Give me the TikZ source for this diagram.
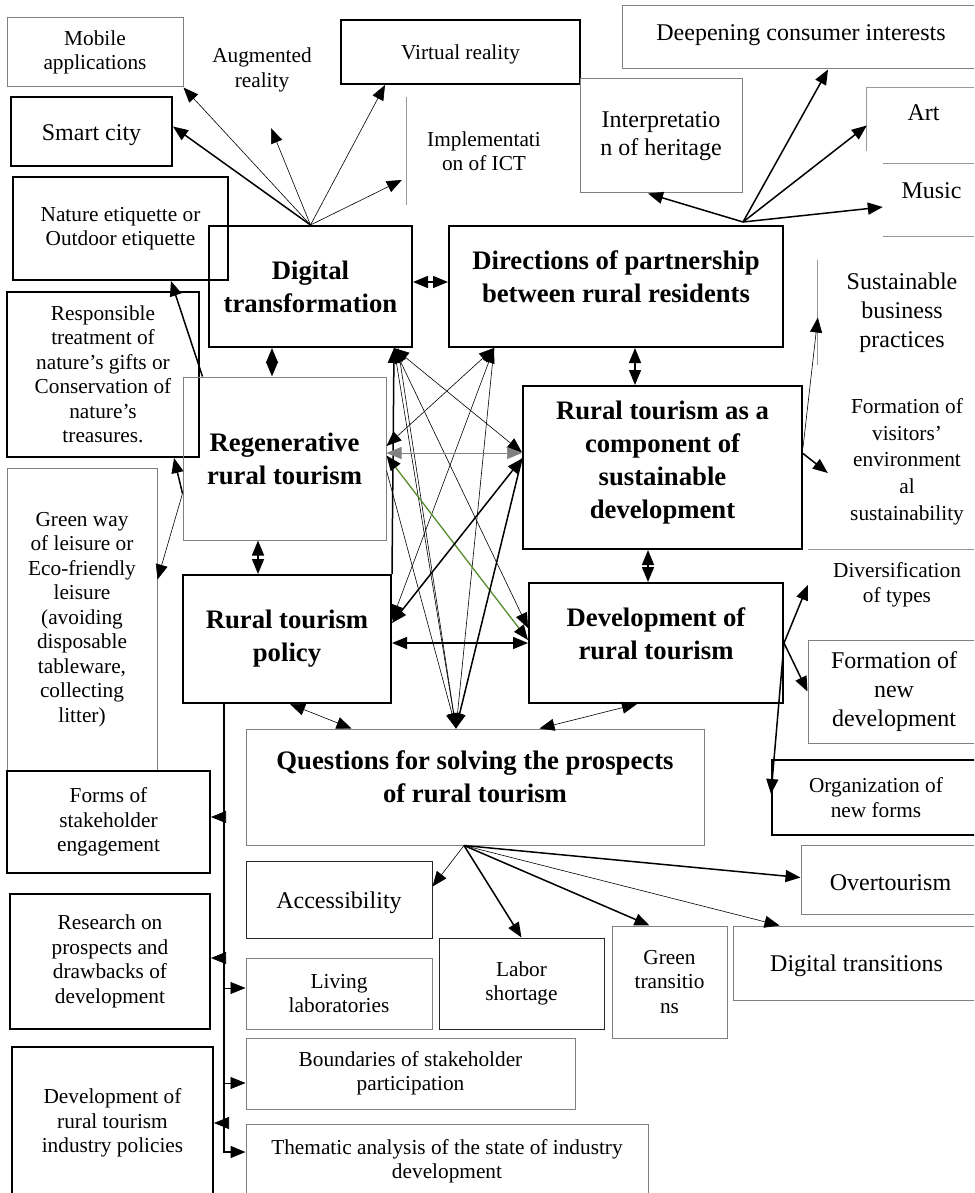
\documentclass[tikz,border=0pt]{standalone}
\usepackage{fontspec}
\setmainfont{Liberation Serif}
\usepackage{tikz}
\usetikzlibrary{arrows.meta}
\definecolor{leafgreen}{RGB}{84,140,44}
\newcommand{\fsm}{\fontsize{21.3}{24.5}\selectfont}
\newcommand{\fmd}{\fontsize{24}{27.6}\selectfont}
\newcommand{\fhd}{\fontsize{26.7}{33}\selectfont\bfseries}

\begin{document}
\begin{tikzpicture}[x=1pt,y=-1pt,
  every node/.style={inner sep=0pt,align=center},
  sm/.style={font=\fsm,execute at begin node={\rule{0pt}{20pt}}},
  md/.style={font=\fmd,execute at begin node={\rule{0pt}{23pt}}},
  hd/.style={font=\fhd},
  sml/.style={font=\fontsize{21.3}{26.7}\selectfont,execute at begin node={\rule{0pt}{20pt}}},
  mdl/.style={font=\fontsize{24}{29}\selectfont,execute at begin node={\rule{0pt}{23pt}}},
  thinbox/.style={draw=black!50,line width=1pt},
  darkbox/.style={draw=black!85,line width=1pt},
  thickbox/.style={draw=black,line width=2pt},
  sz/.style 2 args={minimum width=#1,minimum height=#2},
  rim/.style={draw=black!40,line width=1pt},
  headed/.style={-{Triangle[length=15pt,width=12pt]}},
  arr/.style={headed,line width=0.6pt},
  arrt/.style={headed,line width=1.5pt},
  dbl/.style={{Triangle[length=15pt,width=12pt]}-{Triangle[length=15pt,width=12pt]},line width=0.6pt},
  dblt/.style={dbl,line width=1.5pt}]
\useasboundingbox (0,0) rectangle (974,1193);
\clip (0,0) rectangle (974,1193);

% top row
\node[thinbox,sm,sz={176}{69}] (mob) at (95,52.5) {Mobile\\applications};
\node[thickbox,md,sz={161}{69}] (smart) at (91.5,131.5) {Smart city};
\node[sm] (aug) at (262,70) {Augmented\\reality};
\node[thickbox,sm,sz={239}{64}] (virt) at (460.5,52) {Virtual reality};
\node[sm,sz={154}{108}] (impl) at (484,151) {Implementati\\on of ICT};
\node[thinbox,md,sz={358}{63},text depth=17pt] (deep) at (801,37.5) {Deepening consumer interests};
\node[thinbox,md,sz={162}{114}] (interp) at (661,136) {Interpretatio\\n of heritage};
\node[md,sz={113}{63},text depth=20pt] (art) at (923.5,119.5) {Art};
\node[md,sz={97}{72},text depth=26pt] (music) at (931.5,200) {Music};
\draw[rim] (impl.north west) -- (impl.south west);
\draw[rim] (art.south west) -- (art.north west) -- (art.north east);
\draw[rim] (music.north west) -- (music.north east) (music.south west) -- (music.south east);

% main boxes
\node[thickbox,sm,sz={215}{103}] (nat) at (120.5,228.5) {Nature etiquette or\\Outdoor etiquette};
\node[thickbox,hd,sz={203}{121}] (dig) at (310.5,286.5) {Digital\\transformation};
\node[thickbox,hd,sz={334}{121},text depth=20pt] (dir) at (616,286.5) {Directions of partnership\\between rural residents};
\node[thickbox,sm,sz={192}{165}] (resp) at (103,374.5) {Responsible\\treatment of\\nature's gifts or\\Conservation of\\nature's\\treasures.};
\node[mdl,sz={168}{105}] (sbp) at (902,312.5) {Sustainable\\business\\practices};
\node[thinbox,hd,sz={203}{163}] (regen) at (284.5,458.5) {Regenerative\\rural tourism};
\node[thickbox,hd,sz={279}{163},text depth=16pt] (rsus) at (662.5,467.5) {Rural tourism as a\\component of\\sustainable\\development};
\node[sml,sz={198}{175}] (fvis) at (907,461.5) {Formation of\\visitors'\\environment\\al\\sustainability};
\node[thinbox,sm,sz={150}{303}] (green) at (82,619.5) {Green way\\of leisure or\\Eco-friendly\\leisure\\(avoiding\\disposable\\tableware,\\collecting\\litter)};
\node[thickbox,hd,sz={208}{128}] (pol) at (287,639) {Rural tourism\\policy};
\node[thickbox,hd,sz={254}{120},text depth=19pt] (devr) at (656,643) {Development of\\rural tourism};
\node[sm,sz={178}{56}] (div) at (897,585) {Diversification\\of types};
\node[thinbox,mdl,sz={172}{103}] (fnew) at (894,691.5) {Formation of\\new\\development};
\draw[rim] (sbp.north west) -- (sbp.south west);
\draw[rim] (fvis.south west) -- (fvis.south east);

% bottom part
\node[thinbox,hd,sz={458}{116},text depth=21pt] (quest) at (475,787) {Questions for solving the prospects\\of rural tourism};
\node[thickbox,sm,sz={208}{75}] (org) at (876,797.5) {Organization of\\new forms};
\node[thickbox,sm,sz={203}{102}] (forms) at (108.5,822) {Forms of\\stakeholder\\engagement};
\node[darkbox,md,sz={186}{77}] (acc) at (339,899.5) {Accessibility};
\node[thinbox,md,sz={179}{69}] (over) at (890.5,879.5) {Overtourism};
\node[thickbox,sm,sz={200}{135}] (res) at (110,961.5) {Research on\\prospects and\\drawbacks of\\development};
\node[thinbox,sm,sz={186}{71}] (liv) at (339,993.5) {Living\\laboratories};
\node[darkbox,sm,sz={165}{91}] (lab) at (521.5,983.5) {Labor\\shortage};
\node[thinbox,sm,sz={115}{112}] (gtr) at (669.5,982) {Green\\transitio\\ns};
\node[thinbox,md,sz={247}{74}] (dtr) at (856.5,963) {Digital transitions};
\node[thinbox,sm,sz={329}{71}] (bound) at (410.5,1073.5) {Boundaries of stakeholder\\participation};
\node[thickbox,sm,sz={201}{152}] (dpol) at (112.5,1123) {Development of\\rural tourism\\industry policies};
\node[thinbox,sm,sz={402}{75}] (them) at (447,1161.5) {Thematic analysis of the state of industry\\development};

% fan from digital transformation
\coordinate (augtip) at ([xshift=9pt,yshift=-36pt]aug.south);
\draw[arr] (dig.north) -- (mob.south east);
\draw[arrt] (dig.north) -- ([yshift=5pt]smart.east);
\draw[arr] (dig.north) -- (augtip);
\draw[arr] (dig.north) -- ([xshift=45pt]virt.south west);
\draw[arr] (dig.north) -- ([xshift=-5pt,yshift=-29pt]impl.west);

% fan from partnership
\coordinate (dirfan) at ([xshift=-41pt,yshift=3pt]dir.north east);
\draw[arrt] (dirfan) -- ([xshift=-13pt]interp.south);
\draw[arrt] (dirfan) -- ([xshift=27pt]deep.south);
\draw[arrt] (dirfan) -- ([yshift=-6pt]art.west);
\draw[arrt] (dirfan) -- ([yshift=-7pt]music.west);

% links between the main boxes
\draw[dblt] ([yshift=4.5pt]dig.east) -- ([yshift=4.5pt]dir.west);
\draw[dblt] ([xshift=-38.5pt]dig.south) -- ([xshift=-12.5pt]regen.north);
\draw[dblt] ([xshift=-26.5pt]regen.south) -- ([xshift=-29pt]pol.north);
\draw[dblt] ([xshift=19pt]dir.south) -- ([xshift=-27.5pt]rsus.north);
\draw[dblt] ([xshift=-14.5pt]rsus.south) -- ([xshift=-8pt]devr.north);
\draw[dblt] ([yshift=-4pt]pol.east) -- (devr.west);
\draw[dbl] ([xshift=3pt]pol.south) -- ([xshift=106pt]quest.north west);
\draw[dbl] ([xshift=-19pt]devr.south) -- ([xshift=294pt]quest.north west);

% crossing lines in the middle
\coordinate (digS) at ([xshift=-19pt]dig.south east);
\coordinate (digS2) at ([xshift=-15pt]dig.south east);
\coordinate (dirS) at ([xshift=46pt]dir.south west);
\coordinate (regE1) at ([yshift=12.5pt]regen.east);
\coordinate (regE2) at ([yshift=5.5pt]regen.east);
\coordinate (regE3) at ([yshift=3pt]regen.east);
\coordinate (regE4) at ([yshift=-12pt]regen.east);
\coordinate (susW1) at ([yshift=15pt]rsus.west);
\coordinate (susW3) at ([yshift=9pt]rsus.west);
\coordinate (polE) at ([yshift=16pt]pol.east);
\coordinate (polE2) at ([yshift=19pt]pol.east);
\coordinate (devW1) at ([yshift=15pt]devr.west);
\coordinate (devW2) at ([yshift=3pt]devr.west);
\coordinate (queN) at ([xshift=-19pt]quest.north);
\draw[arrt] (pol.north east) -- (digS);
\draw[dbl] (digS) -- (susW1);
\draw[dbl] (digS) -- (devW1);
\draw[arr] (digS) -- (queN);
\draw[arr] (digS2) -- (queN);
\draw[dbl] (dirS) -- (regE1);
\draw[dbl] (dirS) -- (polE2);
\draw[arr] (dirS) -- (queN);
\draw[dbl,draw=black!50] (regE2) -- (regE2 -| rsus.west);
\draw[{Triangle[length=15pt,width=12pt,color=black]}-{Triangle[length=15pt,width=12pt,color=black]},leafgreen,line width=1.3pt] (regE3) -- (devW2);
\draw[arr] (regE4) -- (queN);
\draw[dblt] (susW3) -- (polE);
\draw[arrt] (susW3) -- (queN);

% left side
\draw[arrt] ([xshift=20pt]regen.north west) -- ([xshift=-58pt]nat.south east);
\draw[arrt] ([yshift=-35pt]regen.west) -- ([xshift=-26pt]resp.south east);
\draw[arr] ([yshift=-35pt]regen.west) -- ([yshift=40pt]green.east);

% right side
\draw[arrt] ([yshift=14pt]rsus.east) -- ([xshift=20pt,yshift=-11.5pt]fvis.west);
\draw[arr] ([yshift=20pt]rsus.east) -- ([yshift=-5pt]sbp.west);
\draw[arrt] (devr.east) -- (div.west);
\draw[arrt] (devr.east) -- (fnew.west);
\draw[arrt] (devr.east) -- ([yshift=-35pt]org.north west);

% fan from questions
\coordinate (qfan) at ([xshift=-11pt]quest.south);
\draw[arr] (qfan) -- ([yshift=13pt]acc.east);
\draw[arrt] (qfan) -- (lab.north);
\draw[arrt] (qfan) -- ([xshift=-20pt]gtr.north);
\draw[arr] (qfan) -- ([xshift=47pt]dtr.north west);
\draw[arrt] (qfan) -- ([yshift=2pt]over.west);

% policy trunk
\coordinate (trunk) at ([xshift=42pt]pol.south west);
\draw[arrt] (trunk) |- ([yshift=9.5pt]them.west);
\foreach \n/\dy in {forms/5pt,res/3.5pt,dpol/0pt}
  \draw[arr] ([yshift=\dy]\n.east -| trunk) -- ([yshift=\dy]\n.east);
\foreach \n/\dy in {liv/5.5pt,bound/-9.5pt}
  \draw[arr] ([yshift=\dy]\n.west -| trunk) -- ([yshift=\dy]\n.west);
\end{tikzpicture}
\end{document}
